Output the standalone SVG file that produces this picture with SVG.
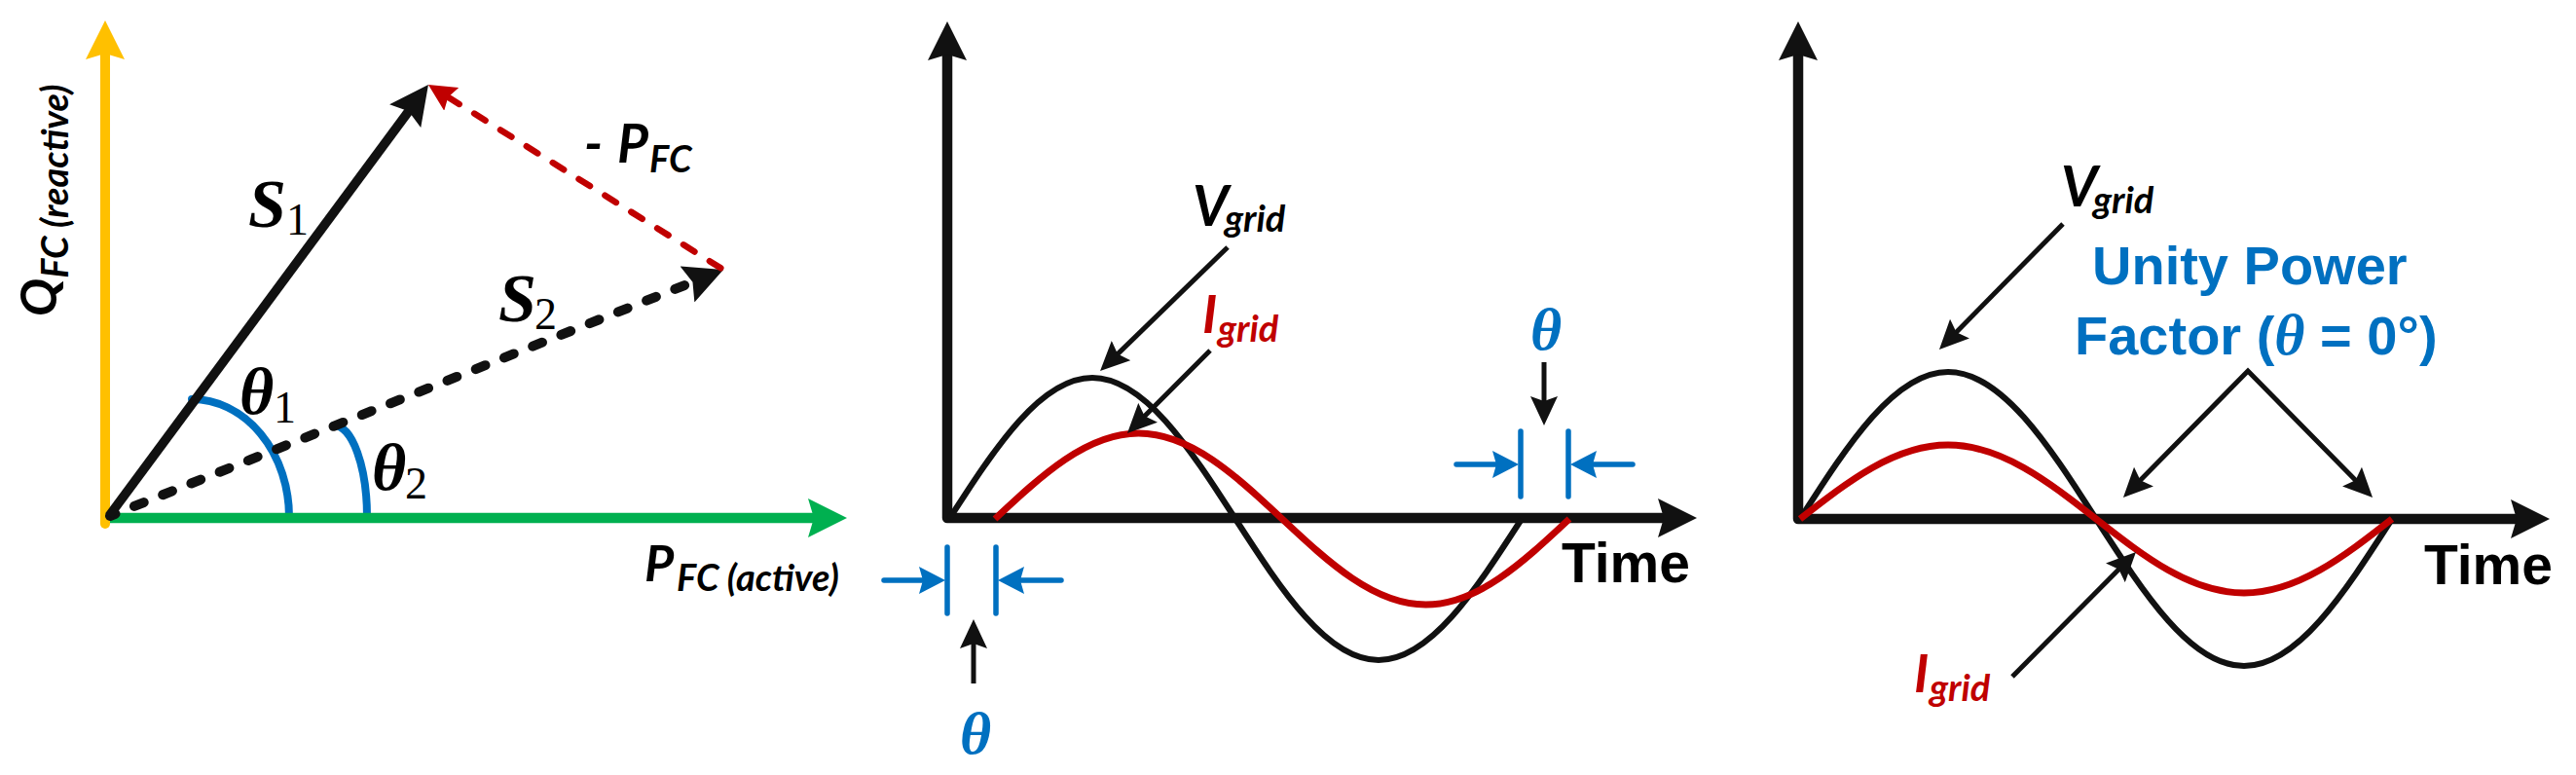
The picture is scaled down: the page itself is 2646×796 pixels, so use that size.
<svg xmlns="http://www.w3.org/2000/svg" width="2646" height="796" viewBox="0 0 2646 796">
<style>
.lbl{font-family:Lato,"Liberation Sans","DejaVu Sans",sans-serif;font-weight:bold;font-style:italic}
.math{font-family:"Liberation Serif","DejaVu Serif",serif;font-style:italic;font-weight:bold}
.sub{font-style:normal;font-weight:normal}
.sans{font-family:"Liberation Sans",Arial,sans-serif;font-weight:bold}
.axis{fill:none;stroke:#111;stroke-width:10.5;stroke-linejoin:round;stroke-linecap:round}
.wv{fill:none;stroke:#111;stroke-width:6.2}
.wi{fill:none;stroke:#C00000;stroke-width:7}
.ar{fill:none;stroke:#111;stroke-width:5;stroke-linejoin:miter}
.bl{fill:none;stroke:#0070C0;stroke-width:5.5;stroke-linecap:round}
.arc{fill:none;stroke:#0070C0;stroke-width:8;stroke-linecap:round}
</style>
<defs>
<marker id="ha-k" markerUnits="userSpaceOnUse" markerWidth="40" markerHeight="40" refX="14" refY="20" orient="auto-start-reverse"><path d="M0,0 L40,20 L0,40 L6,20 Z" fill="#111"/></marker>
<marker id="ha-y" markerUnits="userSpaceOnUse" markerWidth="40" markerHeight="40" refX="14" refY="20" orient="auto"><path d="M0,0 L40,20 L0,40 L6,20 Z" fill="#FFC000"/></marker>
<marker id="ha-g" markerUnits="userSpaceOnUse" markerWidth="40" markerHeight="40" refX="14" refY="20" orient="auto"><path d="M0,0 L40,20 L0,40 L6,20 Z" fill="#00B050"/></marker>
<marker id="hk" markerUnits="userSpaceOnUse" markerWidth="30" markerHeight="28" refX="10" refY="14" orient="auto-start-reverse"><path d="M0,0 L30,14 L0,28 L5,14 Z" fill="#111"/></marker>
<marker id="hb" markerUnits="userSpaceOnUse" markerWidth="27" markerHeight="28" refX="9" refY="14" orient="auto"><path d="M0,0 L27,14 L0,28 L4,14 Z" fill="#0070C0"/></marker>
<marker id="hr" markerUnits="userSpaceOnUse" markerWidth="28" markerHeight="28" refX="10" refY="14" orient="auto"><path d="M0,0 L28,14 L0,28 L4,14 Z" fill="#C00000"/></marker>
</defs>
<rect width="2646" height="796" fill="#fff"/>

<!-- Panel 1: phasor diagram -->
<g id="panel1">
  <g id="p1-angles">
    <path class="arc" d="M197,410 A100,121 0 0 1 297,531"/>
    <path class="arc" d="M343,437 A34,94 0 0 1 377,531"/>
  </g>
  <g id="p1-axes">
    <path d="M113,532 H844" fill="none" stroke="#00B050" stroke-width="10.5" marker-end="url(#ha-g)"/>
    <path d="M108,538 V47" fill="none" stroke="#FFC000" stroke-width="10" stroke-linecap="round" marker-end="url(#ha-y)"/>
  </g>
  <g id="p1-labels">
    <text class="lbl" transform="translate(58,325) rotate(-90)" font-size="52">Q<tspan dy="12" font-size="38">FC (reactive)</tspan></text>
    <text class="lbl" x="662" y="597" font-size="52">P<tspan x="695" y="607" font-size="38">FC (active)</tspan></text>
    <text class="lbl" x="600" y="167" font-size="55">-<tspan x="634">P</tspan><tspan x="667" y="177" font-size="38">FC</tspan></text>
    <text class="math" x="255" y="233" font-size="70">S<tspan class="sub" x="294" y="241" font-size="46">1</tspan></text>
    <text class="math" x="512" y="330" font-size="70">S<tspan class="sub" x="549" y="338" font-size="46">2</tspan></text>
    <text class="math" x="246" y="425" font-size="68">θ<tspan class="sub" x="281" y="434" font-size="46">1</tspan></text>
    <text class="math" x="382" y="503" font-size="68">θ<tspan class="sub" x="416" y="512" font-size="46">2</tspan></text>
  </g>
</g>

<!-- Panel 2: lagging current -->
<g id="panel2">
  <g id="p2-axes"><path class="axis" d="M973,48 V532 H1717" marker-start="url(#ha-k)" marker-end="url(#ha-k)"/></g>
  <g id="p2-vgrid"><path class="wv" d="M975,533 C1022.9,458.9 1069.1,388 1122,388 C1174.9,388 1221.1,458.9 1269,533 C1316.9,607.1 1363.1,678 1416,678 C1468.9,678 1515.1,607.1 1563,533"/></g>
  <g id="p2-igrid"><path class="wi" d="M1022,533 C1070.1,488 1116.4,445 1169.5,445 C1222.6,445 1268.9,488 1317,533 C1365.1,578 1411.4,621 1464.5,621 C1517.6,621 1563.9,578 1612,533"/></g>
  <g id="p2-theta-left">
    <path class="bl" d="M973,562 V630 M1023,562 V630"/>
    <text class="math" x="1002" y="774" font-size="62" fill="#0070C0" text-anchor="middle">θ</text>
  </g>
  <g id="p2-theta-right">
    <path class="bl" d="M1562,443 V510 M1611,443 V510"/>
    <text class="math" x="1588" y="359" font-size="62" fill="#0070C0" text-anchor="middle">θ</text>
  </g>
  <g id="p2-labels">
    <text class="lbl" x="1225" y="232" font-size="57">V<tspan x="1258" y="238" font-size="38">grid</tspan></text>
    <text class="lbl" x="1235" y="342" font-size="54" fill="#C00000">I<tspan x="1251" y="351" font-size="38">grid</tspan></text>
    <text class="sans" x="1604" y="598" font-size="57">Time</text>
  </g>
</g>

<!-- Panel 3: unity power factor -->
<g id="panel3">
  <g id="p3-axes"><path class="axis" d="M1847,48 V533 H2593" marker-start="url(#ha-k)" marker-end="url(#ha-k)"/></g>
  <g id="p3-vgrid"><path class="wv" d="M1849,533 C1898.6,455.8 1946.3,382 2001,382 C2055.7,382 2103.4,455.8 2153,533 C2202.6,610.2 2250.3,684 2305,684 C2359.7,684 2407.4,610.2 2457,533"/></g>
  <g id="p3-igrid"><path class="wi" d="M1849,533 C1898.6,494.2 1946.3,457 2001,457 C2055.7,457 2103.4,494.2 2153,533 C2202.6,571.8 2250.3,609 2305,609 C2359.7,609 2407.4,571.8 2457,533"/></g>
  <g id="p3-labels">
    <text class="lbl" x="2117" y="212" font-size="58">V<tspan x="2150" y="219" font-size="38">grid</tspan></text>
    <text class="lbl" x="1966" y="711" font-size="54" fill="#C00000">I<tspan x="1982" y="720" font-size="38">grid</tspan></text>
    <text class="sans" x="2149" y="292" font-size="56" fill="#0070C0">Unity Power</text>
    <text class="sans" x="2131" y="364" font-size="56" fill="#0070C0">Factor (<tspan class="math" font-size="60">θ</tspan> = 0°)</text>
    <text class="sans" x="2490" y="600" font-size="57">Time</text>
  </g>
</g>

<!-- Connectors -->
<g id="connectors">
  <path d="M113,530 L718.9,286.7" fill="none" stroke="#111" stroke-width="10" stroke-linecap="round" stroke-dasharray="10.5 21" stroke-dashoffset="4.6" marker-end="url(#ha-k)"/>
  <path d="M112,530 L424.5,107.9" fill="none" stroke="#111" stroke-width="9.5" marker-end="url(#ha-k)"/>
  <path d="M743,277 L455.2,96.6" fill="none" stroke="#C00000" stroke-width="6.5" stroke-linecap="round" stroke-dasharray="13.5 18.2" stroke-dashoffset="-3.2" marker-end="url(#hr)"/>
  <path class="ar" d="M1261,254 L1144.4,367.1" marker-end="url(#hk)"/>
  <path class="ar" d="M1243,360 L1172.1,430.9" marker-end="url(#hk)"/>
  <path class="ar" d="M1000,702 V656" marker-end="url(#hk)"/>
  <path class="ar" d="M1586,372 V417" marker-end="url(#hk)"/>
  <path class="bl" d="M908,596 H953" marker-end="url(#hb)"/>
  <path class="bl" d="M1090,596 H1043" marker-end="url(#hb)"/>
  <path class="bl" d="M1496,477 H1542" marker-end="url(#hb)"/>
  <path class="bl" d="M1677,477 H1631" marker-end="url(#hb)"/>
  <path class="ar" d="M2119,230 L2006,344.7" marker-end="url(#hk)"/>
  <path class="ar" d="M2195,496.7 L2309,381 L2423,496.7" marker-start="url(#hk)" marker-end="url(#hk)"/>
  <path class="ar" d="M2067,695 L2179.9,581.2" marker-end="url(#hk)"/>
</g>
</svg>
